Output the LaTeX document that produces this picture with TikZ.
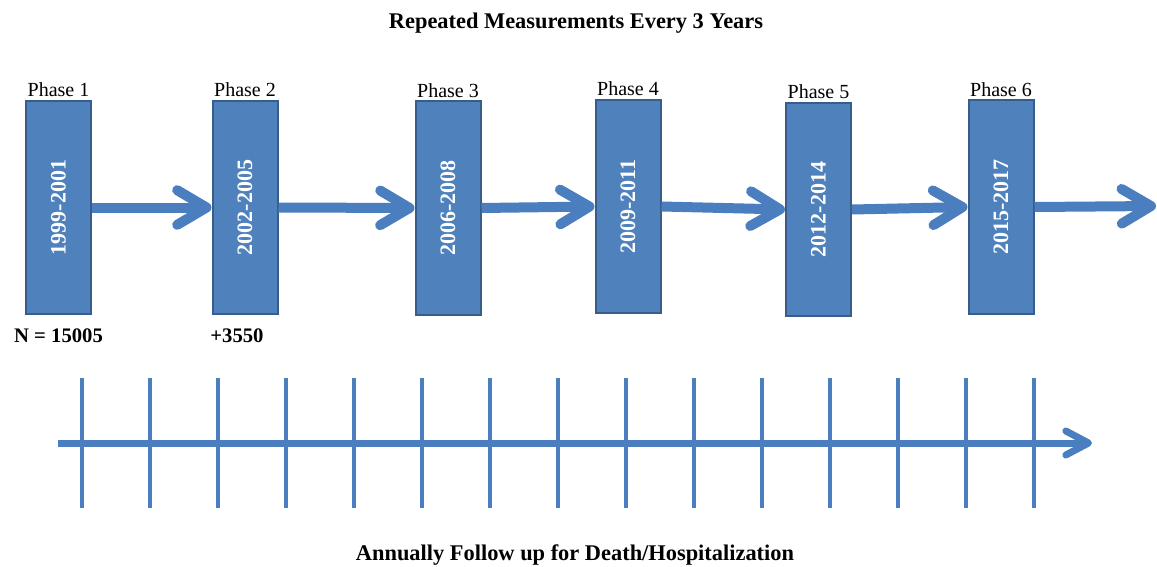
\documentclass[tikz,border=0pt]{standalone}
\usepackage{fontspec}
\setmainfont{Liberation Serif}
\usetikzlibrary{arrows.meta,positioning}
\definecolor{boxblue}{HTML}{4F81BD}
\definecolor{boxedge}{HTML}{385D8A}
\definecolor{lineblue}{HTML}{4A7EBF}
\begin{document}
\begin{tikzpicture}[x=0.75pt, y=-0.75pt,
    phasebox/.style={draw=boxedge, fill=boxblue, line width=1.5pt, minimum width=48.75pt,
        minimum height=159.75pt, inner sep=0pt, text=white, font=\fontsize{16.5}{18}\selectfont\bfseries},
    phaselbl/.style={inner sep=1pt, font=\fontsize{15}{17}\selectfont},
    countlbl/.style={inner sep=1pt, font=\fontsize{15.5}{17}\selectfont\bfseries},
    headlbl/.style={inner sep=1pt, font=\fontsize{16.8}{19}\selectfont\bfseries},
    flow/.style={lineblue, line width=7.5pt, -{Straight Barb[round, length=22pt, width=26pt]}},
    timeline/.style={lineblue, line width=5.25pt, -{Straight Barb[round, length=17pt, width=18pt]}},
    tick/.style={lineblue, line width=3pt}]
    \useasboundingbox (0,0) rectangle (1157,567);

    % Title and footer
    \node[headlbl] (title) at (576,23) {Repeated Measurements Every 3 Years};
    \node[headlbl] (foot) at (575,555) {Annually Follow up for Death/Hospitalization};

    % Phases
    \foreach \x/\y/\yr [count=\i] in {58.5/207.5/1999-2001, 245/207.5/2002-2005,
        448/208/2006-2008, 628/206.5/2009-2011, 818.5/209.5/2012-2014, 1001/207/2015-2017}
    {
        \node[phasebox] (p\i) at (\x,\y) {\rotatebox{90}{\yr}};
        \node[phaselbl, above=1pt of p\i] (ph\i) {Phase \i};
    }

    % Arrows between phases
    \foreach \i in {1,...,5}
    {
        \pgfmathtruncatemacro{\j}{\i+1}
        \draw[flow] (p\i.east) -- (p\j.west);
    }
    \coordinate (more) at (1156,206);
    \draw[flow] (p6.east) -- (more);

    % Sample sizes
    \node[countlbl, below=9pt of p1] (n1) {N = 15005};
    \node[countlbl, below=9pt of p2, xshift=-6pt] (n2) {+3550};

    % Yearly follow-up
    \coordinate (tstart) at (58,443);
    \coordinate (tend) at (1092,443);
    \draw[timeline] (tstart) -- (tend);
    \foreach \k in {0,...,14}
        \draw[tick] (82+68*\k,378) -- (82+68*\k,508);
\end{tikzpicture}
\end{document}
